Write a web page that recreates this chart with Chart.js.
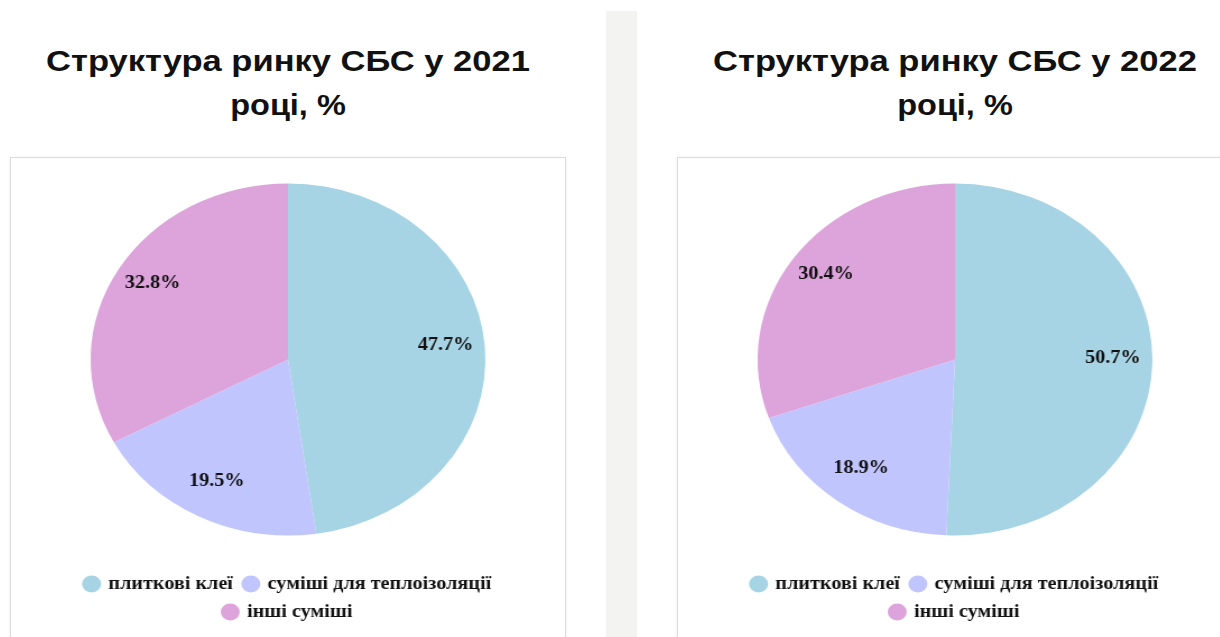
<!DOCTYPE html>
<html>
<head>
<meta charset="utf-8">
<script src="https://cdn.jsdelivr.net/npm/chart.js@4"></script>
<style>
  body { margin: 0; background: #fff; width: 1220px; height: 637px; overflow: hidden; position: relative; }
  .strip { position: absolute; left: 606px; top: 11px; width: 31px; height: 626px; background: #f3f4f2; }
  .title { position: absolute; width: 556px; text-align: center; font-family: "Liberation Sans", Arial, sans-serif;
           font-weight: bold; font-size: 29px; line-height: 43px; color: #111; white-space: nowrap; }
  .line1 { top: 40px; transform: scaleX(1.19); }
  .line2 { top: 84px; transform: scaleX(1.12); }
  .box { position: absolute; top: 157px; width: 554px; height: 500px; border: 1px solid #dcdcdc;
         box-shadow: 0 0 4px rgba(0,0,0,0.06); background: #fff; }
  canvas { position: absolute; top: 154px; }
</style>
</head>
<body>
<div class="strip"></div>

<div class="title line1" style="left:10px">Структура ринку СБС у 2021</div>
<div class="title line2" style="left:10px">році, %</div>
<div class="box" style="left:10px"></div>
<canvas id="chart2021" width="494" height="477" style="left:11px;width:554px;height:477px"></canvas>

<div class="title line1" style="left:677px">Структура ринку СБС у 2022</div>
<div class="title line2" style="left:677px">році, %</div>
<div class="box" style="left:677px"></div>
<canvas id="chart2022" width="494" height="477" style="left:678px;width:554px;height:477px"></canvas>

<script>
const categories = ["плиткові клеї", "суміші для теплоізоляції", "інші суміші"];
const values2021 = [47.7, 19.5, 32.8];
const values2022 = [50.7, 18.9, 30.4];
const sliceColors = ["#a6d4e5", "#c1c5fd", "#dda3db"];

// percent labels drawn on each slice
const sliceLabels = {
  id: "sliceLabels",
  afterDatasetsDraw(chart) {
    const ctx = chart.ctx;
    const meta = chart.getDatasetMeta(0);
    const data = chart.data.datasets[0].data;
    ctx.save();
    ctx.font = "bold 18px 'Liberation Serif', 'Times New Roman', serif";
    ctx.fillStyle = "#111";
    ctx.textAlign = "center";
    ctx.textBaseline = "middle";
    meta.data.forEach((arc, i) => {
      const p = arc.getProps(["x", "y", "startAngle", "endAngle", "outerRadius"], true);
      const mid = (p.startAngle + p.endAngle) / 2;
      const r = p.outerRadius * 0.8;
      ctx.fillText(data[i].toFixed(1) + "%", p.x + Math.cos(mid) * r, p.y + Math.sin(mid) * r - 4);
    });
    ctx.restore();
  }
};

function makePie(id, values) {
  new Chart(document.getElementById(id), {
    type: "pie",
    data: {
      labels: categories,
      datasets: [{
        data: values,
        backgroundColor: sliceColors,
        borderWidth: 0,
        radius: 176
      }]
    },
    options: {
      responsive: false,
      animation: false,
      layout: { padding: 0 },
      plugins: {
        tooltip: { enabled: false },
        legend: {
          position: "bottom",
          labels: {
            usePointStyle: true,
            pointStyle: "circle",
            boxWidth: 12,
            boxHeight: 12,
            padding: 10,
            color: "#111",
            font: { family: "'Liberation Serif', 'Times New Roman', serif", size: 18, weight: "bold" }
          }
        }
      }
    },
    plugins: [sliceLabels]
  });
}

makePie("chart2021", values2021);
makePie("chart2022", values2022);
</script>
</body>
</html>
